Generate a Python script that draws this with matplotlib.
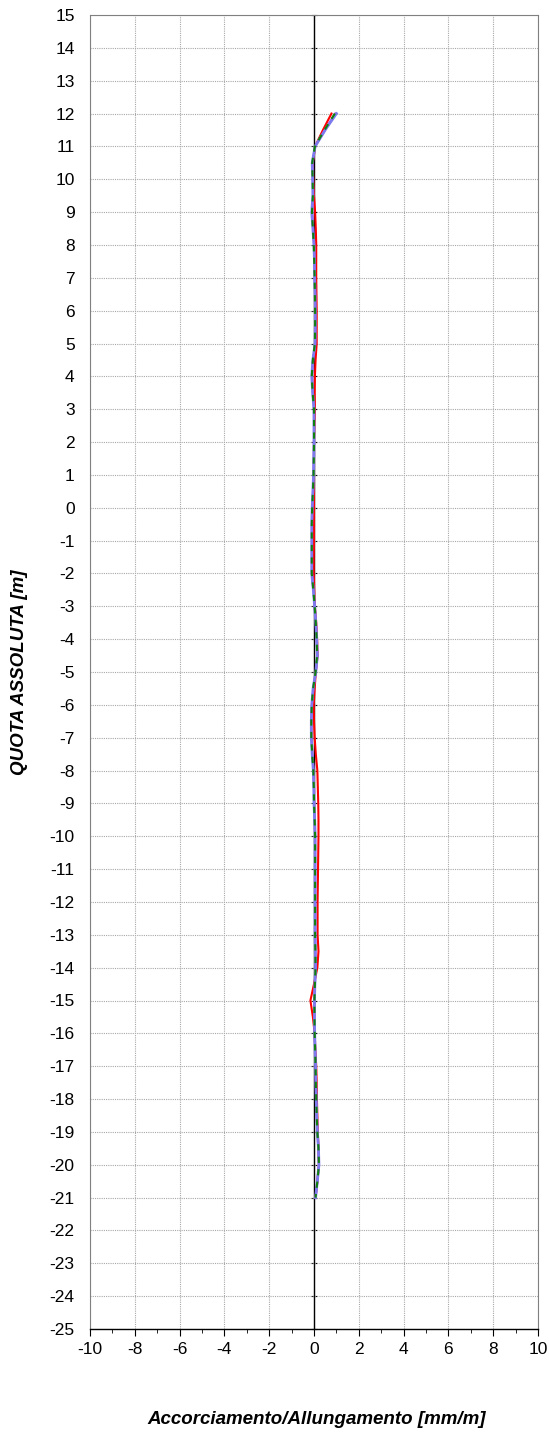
import matplotlib
matplotlib.use("Agg")
import matplotlib.pyplot as plt
from matplotlib.ticker import MultipleLocator

plt.rcParams['font.family'] = ['Liberation Sans', 'DejaVu Sans']
plt.rcParams['axes.unicode_minus'] = False

depth = [12, 11.5, 11, 10.5, 10, 9.5, 9, 8.5, 8, 7.5, 7, 6.5, 6, 5.5, 5, 4.5, 4, 3.5, 3, 2.5,
         2, 1.5, 1, 0.5, 0, -0.5, -1, -1.5, -2, -2.5, -3, -3.5, -4, -4.5, -5, -5.5, -6, -6.5,
         -7, -7.5, -8, -8.5, -9, -9.5, -10, -10.5, -11, -11.5, -12, -12.5, -13, -13.5, -14,
         -14.5, -15, -15.5, -16, -16.5, -17, -17.5, -18, -18.5, -19, -19.5, -20, -20.5, -21]

red = [0.78, 0.40, 0.05, -0.05, -0.03, 0.00, 0.05, 0.08, 0.10, 0.10, 0.10, 0.11, 0.12, 0.12,
       0.12, 0.07, 0.04, 0.03, 0.04, 0.02, 0.00, 0.00, 0.00, 0.00, 0.00, 0.00, 0.00, -0.01,
       -0.01, 0.01, 0.04, 0.10, 0.14, 0.16, 0.08, 0.03, -0.01, 0.00, 0.03, 0.08, 0.15, 0.17,
       0.19, 0.20, 0.20, 0.19, 0.18, 0.17, 0.16, 0.16, 0.16, 0.20, 0.15, 0.00, -0.16, -0.05,
       0.03, 0.06, 0.10, 0.12, 0.13, 0.15, 0.17, 0.20, 0.22, 0.15, 0.07]

magenta = [0.95, 0.48, 0.05, -0.07, -0.05, -0.04, -0.08, -0.04, 0.00, 0.02, 0.04, 0.05, 0.06,
           0.06, 0.05, -0.04, -0.09, -0.05, 0.00, 0.00, 0.00, -0.01, -0.02, -0.04, -0.07, -0.09,
           -0.09, -0.09, -0.09, -0.02, 0.03, 0.08, 0.12, 0.15, 0.08, -0.03, -0.09, -0.11, -0.11,
           -0.07, -0.02, 0.00, 0.01, 0.03, 0.05, 0.05, 0.05, 0.05, 0.05, 0.05, 0.05, 0.06, 0.07,
           0.04, 0.02, 0.02, 0.03, 0.05, 0.07, 0.08, 0.10, 0.12, 0.15, 0.20, 0.22, 0.15, 0.07]

green = [0.93, 0.47, 0.04, -0.08, -0.06, -0.05, -0.09, -0.05, -0.01, 0.01, 0.03, 0.04, 0.05,
         0.05, 0.04, -0.05, -0.10, -0.06, 0.00, 0.00, 0.00, -0.01, -0.02, -0.05, -0.08, -0.10,
         -0.10, -0.10, -0.10, -0.03, 0.03, 0.08, 0.12, 0.14, 0.07, -0.04, -0.10, -0.12, -0.12,
         -0.08, -0.03, -0.01, 0.00, 0.03, 0.05, 0.05, 0.05, 0.05, 0.05, 0.05, 0.05, 0.06, 0.07,
         0.04, 0.02, 0.02, 0.03, 0.05, 0.07, 0.08, 0.10, 0.12, 0.15, 0.20, 0.22, 0.15, 0.07]

blue = [1.00, 0.50, 0.05, -0.08, -0.06, -0.05, -0.10, -0.05, 0.00, 0.02, 0.03, 0.05, 0.06,
        0.06, 0.05, -0.05, -0.10, -0.06, 0.00, 0.00, 0.00, -0.01, -0.02, -0.05, -0.08, -0.10,
        -0.10, -0.10, -0.10, -0.03, 0.03, 0.08, 0.12, 0.15, 0.08, -0.04, -0.10, -0.12, -0.12,
        -0.08, -0.03, -0.01, 0.00, 0.03, 0.05, 0.05, 0.05, 0.05, 0.05, 0.05, 0.05, 0.06, 0.07,
        0.04, 0.02, 0.02, 0.03, 0.05, 0.07, 0.08, 0.10, 0.12, 0.15, 0.20, 0.22, 0.15, 0.07]

x_ticks = [-10, -8, -6, -4, -2, 0, 2, 4, 6, 8, 10]
y_ticks = list(range(-25, 16))

fig = plt.figure(figsize=(5.49, 14.34), dpi=100)
ax = fig.add_axes([90/549, 1 - 1329/1434, (538 - 90)/549, (1329 - 15)/1434])

ax.set_xlim(-10, 10)
ax.set_ylim(-25, 15)
ax.set_xticks(x_ticks)
ax.set_yticks(y_ticks)
ax.xaxis.set_minor_locator(MultipleLocator(1))
ax.grid(True, which='major', color='#a8a8a8', linestyle=(0, (1, 1)), linewidth=0.8)
ax.set_axisbelow(True)

ax.axvline(0, color='black', linewidth=1.0, zorder=2)

ax.plot(red, depth, color='#ff0000', linewidth=1.5, zorder=3)
ax.plot(magenta, depth, color='#cc33cc', linewidth=1.5, zorder=4)
ax.plot(blue, depth, color='#7b7bee', linewidth=2.0, zorder=5)
ax.plot(green, depth, color='#108010', linewidth=1.5, linestyle=(0, (3, 3)), zorder=6)

for s in ['top', 'right', 'left']:
    ax.spines[s].set_color('#808080')
    ax.spines[s].set_linewidth(0.8)
ax.spines['bottom'].set_color('black')
ax.spines['bottom'].set_linewidth(1.0)

ax.tick_params(axis='y', which='major', length=0, labelsize=12.5, pad=11)
ax.tick_params(axis='x', which='major', direction='out', length=5, labelsize=12.5, pad=4)
ax.tick_params(axis='x', which='minor', direction='out', length=3)

sec = ax.secondary_yaxis(0.5)
sec.set_yticks(y_ticks)
sec.tick_params(axis='y', direction='inout', length=5, labelleft=False, labelright=False)
sec.spines['left'].set_visible(False)
sec.spines['right'].set_visible(False)
sec.set_yticklabels([])

fig.text(20/549, 1 - 672/1434, 'QUOTA ASSOLUTA [m]', rotation=90, ha='center', va='center',
         fontsize=13.5, fontweight='bold', fontstyle='italic')
fig.text(317/549, 1 - 1420/1434, 'Accorciamento/Allungamento [mm/m]', ha='center', va='center',
         fontsize=13.5, fontweight='bold', fontstyle='italic')

fig.savefig('out.png', dpi=100)
